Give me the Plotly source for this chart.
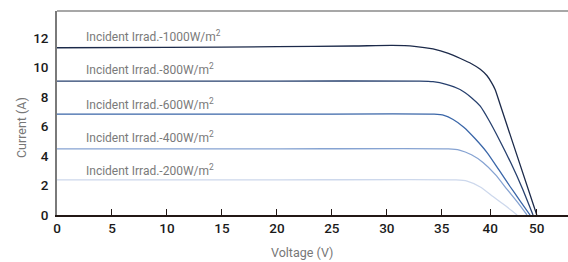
import plotly.graph_objects as go

# ---- data (x in axis display units, y in A) ----
x_tick_vals = [0, 5, 10, 15, 20, 25, 30, 35, 39.4, 43.64]
x_tick_text = ["0", "5", "10", "15", "20", "25", "30", "35", "40", "50"]
y_tick_vals = [0, 2, 4, 6, 8, 10, 12]

labels = ["1000", "800", "600", "400", "200"]

v_1000 = [0, 10, 20, 27, 30.5, 32.5, 34.2, 35.6, 36.7, 37.7, 38.5, 39.1, 39.5, 39.85, 40.3, 41.5, 43.64]
i_1000 = [11.33, 11.36, 11.40, 11.45, 11.49, 11.43, 11.25, 10.95, 10.6, 10.25, 9.88, 9.45, 9.0, 8.5, 7.5, 4.8, 0]

v_800 = [0, 20, 33.0, 34.2, 35.4, 36.66, 37.7, 38.5, 39.3, 40.3, 41.3, 42.3, 43.3]
i_800 = [9.07, 9.07, 9.07, 9.03, 8.85, 8.5, 7.95, 7.37, 6.4, 5.0, 3.5, 1.85, 0]

v_600 = [0, 20, 34.3, 35.2, 36.03, 37.0, 38.0, 39.12, 40.2, 41.21, 42.1, 43.03]
i_600 = [6.83, 6.83, 6.83, 6.75, 6.47, 5.95, 5.2, 4.23, 3.05, 1.93, 0.98, 0]

v_400 = [0, 20, 35.6, 36.6, 37.7, 38.75, 39.9, 40.94, 41.9, 42.75]
i_400 = [4.48, 4.48, 4.48, 4.40, 4.08, 3.56, 2.72, 1.73, 0.85, 0]

v_200 = [0, 20, 36.3, 37.3, 38.5, 39.66, 40.8, 41.85]
i_200 = [2.38, 2.38, 2.38, 2.3, 1.9, 1.25, 0.62, 0]

series = [(v_1000, i_1000), (v_800, i_800), (v_600, i_600), (v_400, i_400), (v_200, i_200)]
label_y = [12.16, 9.86, 7.55, 5.30, 3.08]

colors = ["#1c2a4a", "#27406e", "#3a66a8", "#86a3d2", "#cdd8ec"]

fig = go.Figure()
for (v, i), c in zip(series, colors):
    fig.add_trace(go.Scatter(x=v, y=i, mode="lines",
                             line=dict(color=c, width=1.3, shape="spline", smoothing=0.6),
                             showlegend=False, hoverinfo="skip"))

for lab, ly in zip(labels, label_y):
    fig.add_annotation(x=2.5, y=ly, xref="x", yref="y", xanchor="left", yanchor="middle",
                       text=f"Incident Irrad.-{lab}W/m<sup>2</sup>", showarrow=False,
                       font=dict(family="Roboto", size=12, color="#7a7a7a"))

fig.add_annotation(x=0.479, y=-0.186, xref="paper", yref="paper", text="Voltage (V)",
                   showarrow=False, xanchor="center", yanchor="middle",
                   font=dict(family="Roboto", size=12.5, color="#777777"))
fig.add_annotation(x=-0.0705, y=0.431, xref="paper", yref="paper", text="Current (A)",
                   showarrow=False, xanchor="center", yanchor="middle", textangle=-90,
                   font=dict(family="Roboto", size=12.5, color="#777777"))

fig.add_shape(type="line", xref="paper", yref="paper", x0=0, x1=1, y0=1, y1=1,
              line=dict(color="#8a8a8a", width=1.5))

fig.update_layout(
    width=568, height=262,
    margin=dict(l=57, r=0, t=11, b=47),
    plot_bgcolor="white", paper_bgcolor="white",
    xaxis=dict(range=[0, 46.48], tickvals=x_tick_vals, ticktext=x_tick_text,
               showgrid=False, zeroline=False, showline=True, linecolor="#231815", linewidth=1.5,
               ticks="inside", ticklen=6, tickcolor="#231815", tickwidth=1,
               tickfont=dict(family="Roboto", size=13.5, color="#1a1a1a", weight=500)),
    yaxis=dict(range=[0, 13.82], tickvals=y_tick_vals,
               showgrid=False, zeroline=False, showline=True, linecolor="#7a7a7a", linewidth=1.5,
               ticks="", ticklabelstandoff=4,
               tickfont=dict(family="Roboto", size=13.5, color="#1a1a1a", weight=500)),
)

fig.write_html("out.html", config={"displayModeBar": False},
               post_script="document.body.style.margin='0';document.body.style.overflow='hidden';")
